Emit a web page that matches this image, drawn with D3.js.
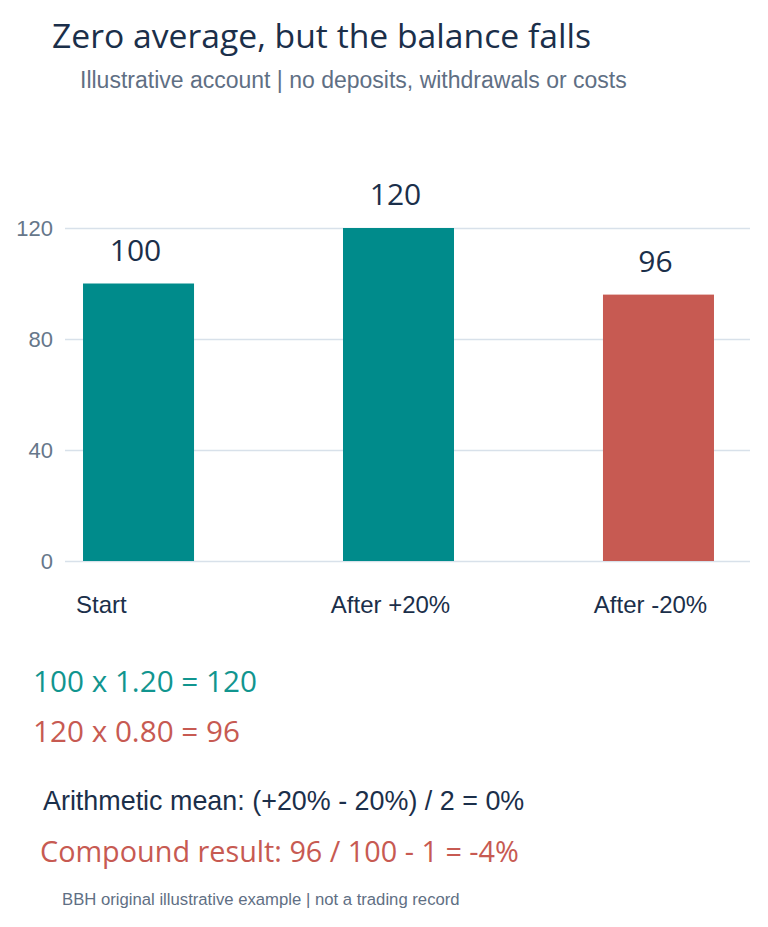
<!DOCTYPE html>
<html>
<head>
<meta charset="utf-8">
<script src="https://cdn.jsdelivr.net/npm/d3@7"></script>
<style>
  html, body { margin: 0; padding: 0; background: #fff; }
</style>
</head>
<body>
<div class="chart"></div>
<script>
var w = 768, h = 927;

var categories = ['Start', 'After +20%', 'After -20%'],
	balances = [100, 120, 96],
	yTicks = [0, 40, 80, 120];

var formulaLines = ['100 x 1.20 = 120', '120 x 0.80 = 96'],
	meanLine = 'Arithmetic mean: (+20% - 20%) / 2 = 0%',
	compoundLine = 'Compound result: 96 / 100 - 1 = -4%';

var teal = '#008b8b',
	red = '#c75a52',
	ink = '#1b2f4a',
	grey = '#5f6f84';

// plot box
var plotLeft = 65, plotRight = 750, plotTop = 228, plotBottom = 561;

var x = d3.scaleBand()
			.domain(categories)
			.range([63, 734])
			.paddingInner(0.573)
			.paddingOuter(0.077);
var y = d3.scaleLinear().domain([0, 120]).range([plotBottom, plotTop]);

var svg = d3.select('.chart').append('svg')
			.attr('width', w)
			.attr('height', h)
			.style('font-family', 'Liberation Sans, Arial, sans-serif');

svg.append('text')
	.attr('x', 52).attr('y', 48)
	.attr('font-family', 'Open Sans, Noto Sans, sans-serif')
	.attr('font-size', 33.7)
	.attr('fill', ink)
	.text('Zero average, but the balance falls');

svg.append('text')
	.attr('x', 80).attr('y', 88)
	.attr('font-size', 23)
	.attr('fill', grey)
	.text('Illustrative account | no deposits, withdrawals or costs');

// gridlines + y labels
var yAxis = svg.append('g')
	.attr('transform', 'translate(' + plotLeft + ',0)')
	.call(d3.axisLeft(y).tickValues(yTicks).tickSize(-(plotRight - plotLeft)).tickPadding(12))
yAxis.select('.domain').remove();
yAxis.selectAll('.tick line').attr('stroke', '#d8e1ea').attr('stroke-width', 1.5);
yAxis.selectAll('.tick text')
	.attr('font-size', 22)
	.attr('fill', '#66778a')
	.attr('font-family', 'Liberation Sans, Arial, sans-serif');

// bars
svg.selectAll('rect.bar')
	.data(balances)
	.enter()
	.append('rect')
		.attr('class', 'bar')
		.attr('x', function(d, i) { return x(categories[i]); })
		.attr('y', function(d) { return y(d); })
		.attr('width', x.bandwidth())
		.attr('height', function(d) { return y(0) - y(d); })
		.attr('fill', function(d, i) { return d < balances[i - 1] ? red : teal; });

// value labels
svg.selectAll('text.val')
	.data(balances)
	.enter()
	.append('text')
		.attr('class', 'val')
		.attr('x', function(d, i) { return x(categories[i]) + x.bandwidth() / 2 - 3; })
		.attr('y', function(d) { return y(d) - 23; })
		.attr('text-anchor', 'middle')
		.attr('font-family', 'Open Sans, Noto Sans, sans-serif')
		.attr('font-size', 30)
		.attr('fill', ink)
		.text(function(d) { return d; });

// category labels
svg.selectAll('text.cat')
	.data(categories)
	.enter()
	.append('text')
		.attr('class', 'cat')
		.attr('x', function(d, i) { return i === 0 ? x(d) - 7 : x(d) + x.bandwidth() / 2 - 8; })
		.attr('y', 613)
		.attr('text-anchor', function(d, i) { return i === 0 ? 'start' : 'middle'; })
		.attr('font-size', 24)
		.attr('fill', ink)
		.text(function(d) { return d; });

// worked example
svg.selectAll('text.formula')
	.data(formulaLines)
	.enter()
	.append('text')
		.attr('class', 'formula')
		.attr('x', 33)
		.attr('y', function(d, i) { return 692 + i * 50; })
		.attr('font-family', 'Open Sans, Noto Sans, sans-serif')
		.attr('font-size', 29.7)
		.attr('fill', function(d, i) { return i === 0 ? '#11958f' : red; })
		.text(function(d) { return d; });

svg.append('text')
	.attr('x', 43).attr('y', 810)
	.attr('font-size', 26.9)
	.attr('fill', ink)
	.text(meanLine);

svg.append('text')
	.attr('x', 40).attr('y', 862)
	.attr('font-family', 'Open Sans, Noto Sans, sans-serif')
	.attr('font-size', 28.8)
	.attr('fill', red)
	.text(compoundLine);

svg.append('text')
	.attr('x', 62).attr('y', 905)
	.attr('font-size', 16.7)
	.attr('fill', grey)
	.text('BBH original illustrative example | not a trading record');
</script>
</body>
</html>
